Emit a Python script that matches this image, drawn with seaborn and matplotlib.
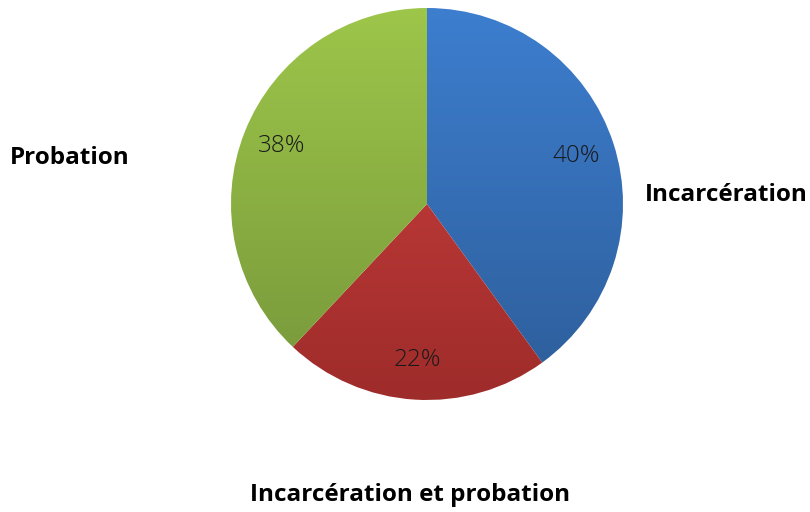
import numpy as np
import matplotlib
matplotlib.use("Agg")
import matplotlib.pyplot as plt
import seaborn as sns
from matplotlib.colors import LinearSegmentedColormap

categories = ["Incarcération", "Incarcération et probation", "Probation"]
values = [40, 22, 38]
top_colors = ["#3d7ecf", "#d04141", "#9dc64a"]
bottom_colors = ["#2d5d99", "#9e2c2a", "#76963a"]

sns.set_theme(style="white")
plt.rcParams["font.family"] = ["Open Sans", "DejaVu Sans"]

W, H = 810, 512
fig = plt.figure(figsize=(W / 100, H / 100), dpi=100)
ax = fig.add_axes([0, 0, 1, 1])

cx, cy, r = 427, H - 204, 196
wedges, texts, autotexts = ax.pie(
    values, labels=categories, startangle=90, counterclock=False,
    center=(cx, cy), radius=r, autopct=lambda p: f"{p:.0f}%",
    pctdistance=0.8, labeldistance=1.2, frame=True,
    wedgeprops=dict(linewidth=0),
)
ax.set_xlim(0, W)
ax.set_ylim(0, H)
ax.set_aspect("equal")
ax.axis("off")

# vertical gradient fill clipped to each wedge
grad = np.linspace(0, 1, 256).reshape(-1, 1)
for w, c0, c1 in zip(wedges, top_colors, bottom_colors):
    w.set_facecolor("none")
    cmap = LinearSegmentedColormap.from_list("g", [c1, c0])
    im = ax.imshow(grad, cmap=cmap, origin="lower", aspect="auto",
                   extent=(cx - r, cx + r, cy - r, cy + r), zorder=1)
    im.set_clip_path(w)

for t in autotexts:
    t.set_fontsize(17.5)
    t.set_fontweight("light")
    t.set_color("#1a1a1a")
    t.set_zorder(5)

label_pos = {"Incarcération": (726, H - 195),
             "Incarcération et probation": (410, H - 495),
             "Probation": (70, H - 158)}
for t in texts:
    t.set_position(label_pos[t.get_text()])
    t.set_ha("center")
    t.set_va("center")
    t.set_fontsize(17.5)
    t.set_fontweight("bold")
    t.set_color("black")

fig.savefig("out.png", dpi=100)
